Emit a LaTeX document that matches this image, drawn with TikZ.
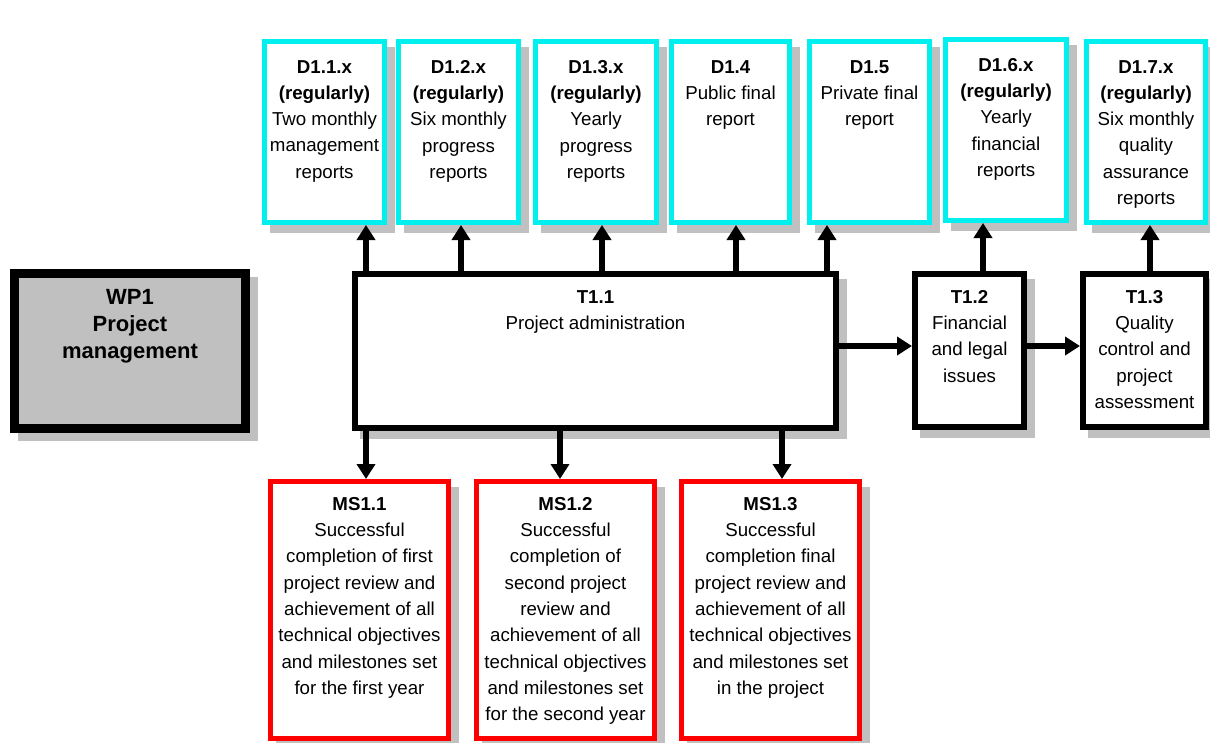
\documentclass[tikz,border=0pt]{standalone}
\usepackage{fontspec}
\setmainfont{Liberation Sans}
\usetikzlibrary{arrows.meta,backgrounds}

\definecolor{delivcyan}{RGB}{0,240,240}
\definecolor{msred}{RGB}{255,0,0}
\definecolor{shadowgray}{RGB}{192,192,192}

\tikzset{
  box/.style={rectangle, inner sep=0pt, fill=white},
  deliv/.style={box, draw=delivcyan, line width=5pt},
  task/.style={box, draw=black, line width=6pt},
  milestone/.style={box, draw=msred, line width=5pt},
  wpbox/.style={box, draw=black, fill=shadowgray, line width=9pt},
  txt/.style={inner sep=0pt, align=center, font=\fontsize{18.7}{26.3}\selectfont},
  wptxt/.style={inner sep=0pt, align=center, font=\fontsize{22}{27}\selectfont\bfseries},
  arr/.style={line width=6pt, -{Triangle[width=18pt,length=15pt]}},
}

\begin{document}
\begin{tikzpicture}[x=1pt, y=-1pt]
\useasboundingbox (0,0) rectangle (1210,742);

% work package
\node[wpbox, minimum width=231pt, minimum height=155pt,
  label={[wptxt, anchor=north, yshift=-20pt]north:{WP1\\Project\\management}}] (wp) at (130,351) {};

% deliverables
\node[deliv, minimum width=120pt, minimum height=181pt,
  label={[txt, anchor=north, yshift=-21pt]north:{\textbf{D1.1.x}\\\textbf{(regularly)}\\Two monthly\\management\\reports}}] (d11) at (324.5,132) {};
\node[deliv, minimum width=120pt, minimum height=181pt,
  label={[txt, anchor=north, yshift=-21pt]north:{\textbf{D1.2.x}\\\textbf{(regularly)}\\Six monthly\\progress\\reports}}] (d12) at (458.5,132) {};
\node[deliv, minimum width=121pt, minimum height=181pt,
  label={[txt, anchor=north, yshift=-21pt]north:{\textbf{D1.3.x}\\\textbf{(regularly)}\\Yearly\\progress\\reports}}] (d13) at (596,132) {};
\node[deliv, minimum width=118pt, minimum height=181pt,
  label={[txt, anchor=north, yshift=-21pt]north:{\textbf{D1.4}\\Public final\\report}}] (d14) at (730.5,132) {};
\node[deliv, minimum width=120pt, minimum height=181pt,
  label={[txt, anchor=north, yshift=-21pt]north:{\textbf{D1.5}\\Private final\\report}}] (d15) at (869.5,132) {};
\node[deliv, minimum width=121pt, minimum height=181pt,
  label={[txt, anchor=north, yshift=-21pt]north:{\textbf{D1.6.x}\\\textbf{(regularly)}\\Yearly\\financial\\reports}}] (d16) at (1006,130) {};
\node[deliv, minimum width=119pt, minimum height=181pt,
  label={[txt, anchor=north, yshift=-21pt]north:{\textbf{D1.7.x}\\\textbf{(regularly)}\\Six monthly\\quality\\assurance\\reports}}] (d17) at (1146,132) {};

% tasks
\node[task, minimum width=481pt, minimum height=154pt,
  label={[txt, anchor=north, yshift=-19pt]north:{\textbf{T1.1}\\Project administration}}] (t11) at (595.5,351) {};
\node[task, minimum width=109pt, minimum height=153pt,
  label={[txt, anchor=north, yshift=-19pt]north:{\textbf{T1.2}\\Financial\\and legal\\issues}}] (t12) at (969.5,350.5) {};
\node[task, minimum width=123pt, minimum height=153pt,
  label={[txt, anchor=north, yshift=-19pt]north:{\textbf{T1.3}\\Quality\\control and\\project\\assessment}}] (t13) at (1144.5,350.5) {};

% milestones
\node[milestone, minimum width=178pt, minimum height=257pt,
  label={[txt, anchor=north, yshift=-18pt]north:{\textbf{MS1.1}\\Successful\\completion of first\\project review and\\achievement of all\\technical objectives\\and milestones set\\for the first year}}] (ms1) at (359.5,610) {};
\node[milestone, minimum width=178pt, minimum height=257pt,
  label={[txt, anchor=north, yshift=-18pt]north:{\textbf{MS1.2}\\Successful\\completion of\\second project\\review and\\achievement of all\\technical objectives\\and milestones set\\for the second year}}] (ms2) at (565.5,610) {};
\node[milestone, minimum width=178pt, minimum height=257pt,
  label={[txt, anchor=north, yshift=-18pt]north:{\textbf{MS1.3}\\Successful\\completion final\\project review and\\achievement of all\\technical objectives\\and milestones set\\in the project}}] (ms3) at (770.5,610) {};

% drop shadows behind every box
\begin{scope}[on background layer]
  \fill[white] (0,0) rectangle (1210,742);
  \foreach \n in {wp,d11,d12,d13,d14,d15,d16,d17,t11,t12,t13,ms1,ms2,ms3}
    \fill[shadowgray] ([shift={(8,8)}]\n.south west) rectangle ([shift={(8,8)}]\n.north east);
\end{scope}

% task to deliverable arrows
\draw[arr] (t11.north -| 366,0) -- (d11.south -| 366,0);
\draw[arr] (t11.north -| 461,0) -- (d12.south -| 461,0);
\draw[arr] (t11.north -| 602,0) -- (d13.south -| 602,0);
\draw[arr] (t11.north -| 736,0) -- (d14.south -| 736,0);
\draw[arr] (t11.north -| 827,0) -- (d15.south -| 827,0);
\draw[arr] (t12.north -| 983,0) -- (d16.south -| 983,0);
\draw[arr] (t13.north -| 1150,0) -- (d17.south -| 1150,0);

% task to milestone arrows
\draw[arr] (t11.south -| 366,0) -- (ms1.north -| 366,0);
\draw[arr] (t11.south -| 560,0) -- (ms2.north -| 560,0);
\draw[arr] (t11.south -| 782,0) -- (ms3.north -| 782,0);

% task sequence
\draw[arr] (t11.east |- 0,346) -- (t12.west |- 0,346);
\draw[arr] (t12.east |- 0,346) -- (t13.west |- 0,346);
\end{tikzpicture}
\end{document}
